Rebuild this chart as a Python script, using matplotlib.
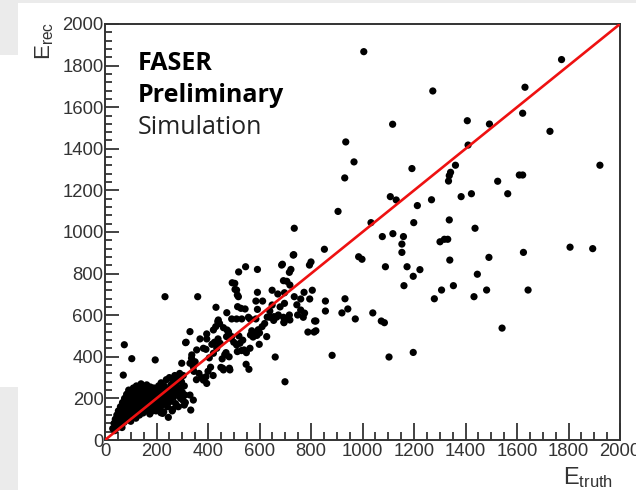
import matplotlib
matplotlib.use("Agg")
import matplotlib.pyplot as plt
from matplotlib.ticker import MultipleLocator
from matplotlib.patches import Rectangle

# ---------------- data (E_truth, E_rec) ----------------
truth_high = [1005, 1773, 1273, 1631, 1622, 1117, 1407, 1493, 1728, 935, 1410, 967, 1922, 1361,
              1192, 1342, 1337, 931, 1334, 1609, 1622, 1525, 1108, 1131, 1423, 1383, 1564, 1213,
              1268, 905, 1033, 1199, 1337, 1437, 1077, 1118, 1159, 1153, 1153, 1301, 1318, 1331,
              852, 1806, 1894, 1625, 985, 998, 1339, 1491, 1089, 1173, 1223, 1197, 1446, 1161,
              1353, 1307, 1482, 1643, 1279, 1433, 856, 932, 856, 920, 943, 972, 1040, 1073, 1085,
              819, 819, 882, 1103, 1197, 1542, 735, 733, 800, 794]
rec_high = [1867, 1829, 1678, 1696, 1571, 1518, 1535, 1519, 1484, 1433, 1418, 1337, 1321, 1321,
            1305, 1287, 1271, 1260, 1245, 1274, 1274, 1244, 1170, 1154, 1184, 1170, 1184, 1127,
            1155, 1099, 1045, 1045, 1058, 1018, 978, 992, 978, 942, 902, 953, 965, 965,
            917, 927, 920, 902, 881, 869, 865, 878, 833, 833, 819, 787, 797, 742,
            742, 721, 721, 721, 679, 689, 668, 679, 620, 611, 630, 582, 611, 572, 564,
            572, 525, 407, 399, 421, 538, 1018, 891, 856, 841]

truth_mid = [689, 592, 722, 716, 693, 706, 718, 592, 649, 671, 697, 773, 805, 735, 760, 795, 586,
             612, 697, 592, 649, 563, 586, 630, 667, 693, 695, 748, 770, 814, 788, 812, 599, 563,
             661, 699, 731, 686, 641, 656, 673, 716, 706, 718, 695, 628, 570, 580, 590, 600, 575,
             595, 565, 610, 620, 640, 655, 680, 745, 760, 775]
rec_mid = [845, 820, 820, 806, 766, 763, 745, 710, 720, 702, 708, 710, 720, 689, 678, 678, 668,
           668, 657, 628, 649, 582, 582, 591, 591, 590, 567, 601, 590, 572, 519, 519, 460, 441,
           399, 280, 889, 841, 590, 593, 601, 601, 585, 577, 564, 497, 525, 510, 503, 515, 495,
           530, 505, 545, 560, 620, 575, 640, 650, 625, 610]

truth_left = [233, 360, 546, 519, 504, 511, 518, 431, 515, 528, 544, 473, 492, 511, 531, 557, 330,
              395, 439, 474, 492, 369, 395, 472, 447, 480, 315, 356, 382, 421, 434, 337, 350, 330,
              343, 298, 548, 457, 483, 559, 494, 505, 514, 440, 421, 430, 445, 460, 438, 479, 489,
              511, 524, 514, 530, 549, 540, 450, 460, 482, 485, 392, 392, 395, 382, 313, 336,
              400, 410, 420, 365, 375, 355, 345, 405, 415, 425, 470, 500, 520, 535, 455, 465]
rec_left = [689, 689, 833, 808, 753, 721, 689, 638, 641, 633, 630, 612, 582, 582, 582, 590, 521,
            510, 486, 529, 497, 486, 486, 497, 465, 516, 470, 433, 441, 417, 441, 409, 376, 369,
            352, 369, 364, 345, 345, 340, 756, 724, 697, 577, 529, 545, 560, 540, 569, 521, 489,
            457, 465, 425, 430, 420, 433, 349, 337, 400, 337, 436, 304, 272, 288, 468, 393,
            330, 350, 310, 320, 300, 290, 330, 395, 460, 470, 420, 470, 500, 480, 390, 410]

truth_low = [75, 104, 195, 71, 311, 330, 343, 333, 263, 217, 246, 291, 302, 308, 224,
             30, 35, 38, 40, 43, 46, 48, 50, 52, 55, 57, 60, 62, 64, 66, 68, 70, 72, 74, 76,
             78, 80, 82, 84, 86, 88, 90, 92, 94, 96, 98, 100, 102, 104, 106, 108, 110, 112, 114,
             116, 118, 120, 122, 124, 126, 128, 130, 132, 134, 136, 138, 140, 142, 144, 146, 148,
             150, 152, 154, 156, 158, 160, 162, 164, 166, 168, 170, 172, 174, 176, 178, 180, 182,
             184, 186, 188, 190, 192, 194, 196, 198, 200, 202, 205, 208, 210, 212, 215, 218, 220,
             222, 225, 228, 230, 232, 235, 238, 240, 243, 246, 248, 250, 253, 256, 258, 261, 264,
             266, 268, 271, 274, 276, 279, 282, 285, 288, 290, 294, 297, 300, 304, 308, 312]
rec_low = [458, 391, 385, 312, 216, 216, 192, 144, 147, 131, 109, 208, 192, 168, 128,
           55, 80, 45, 100, 70, 120, 60, 90, 140, 75, 110, 160, 95, 130, 60, 180, 115, 145, 85, 200,
           130, 165, 100, 220, 150, 185, 120, 240, 170, 135, 205, 90, 155, 230, 185, 120, 250, 200,
           150, 175, 225, 105, 260, 190, 140, 215, 165, 245, 120, 200, 175, 270, 150, 230, 190,
           130, 210, 250, 165, 225, 140, 195, 265, 175, 240, 150, 215, 190, 125, 255, 205, 165,
           235, 140, 215, 185, 250, 160, 225, 195, 140, 240, 175, 210, 260, 150, 225, 190, 275,
           165, 240, 205, 135, 260, 180, 225, 290, 200, 160, 245, 215, 300, 185, 265, 230, 140,
           285, 205, 250, 310, 175, 270, 225, 300, 160, 250, 320, 200, 280, 230, 310, 260, 180]

e_truth = truth_high + truth_mid + truth_left + truth_low
e_rec = rec_high + rec_mid + rec_left + rec_low

diag = [0, 2000]
x_ticks = [0, 200, 400, 600, 800, 1000, 1200, 1400, 1600, 1800, 2000]
y_ticks = [0, 200, 400, 600, 800, 1000, 1200, 1400, 1600, 1800, 2000]

# ---------------- figure ----------------
plt.rcParams['font.family'] = ['Liberation Sans', 'DejaVu Sans']
plt.rcParams['mathtext.fontset'] = 'custom'
plt.rcParams['mathtext.rm'] = 'Liberation Sans'
plt.rcParams['mathtext.it'] = 'Liberation Sans'

fig = plt.figure(figsize=(6.36, 4.90), dpi=100)
fig.patch.set_facecolor('white')

# grey screenshot background pieces
fig.patches.append(Rectangle((0, 1 - 3 / 490), 1, 3 / 490, transform=fig.transFigure,
                             facecolor='#ebebeb', edgecolor='none', zorder=-5))
fig.patches.append(Rectangle((0, 1 - 55 / 490), 18 / 636, 55 / 490, transform=fig.transFigure,
                             facecolor='#ebebeb', edgecolor='none', zorder=-5))
fig.patches.append(Rectangle((0, 0), 18 / 636, 1 - 387 / 490, transform=fig.transFigure,
                             facecolor='#ebebeb', edgecolor='none', zorder=-5))

ax = fig.add_axes([105 / 636, 1 - 440 / 490, 515 / 636, 416 / 490])
ax.set_xlim(0, 2000)
ax.set_ylim(0, 2000)

ax.scatter(e_truth, e_rec, s=27, color='black', edgecolors='none', zorder=3, clip_on=False)
ax.plot(diag, diag, color='#ee1111', lw=1.9, zorder=4, solid_capstyle='butt')

ax.set_xticks(x_ticks)
ax.set_yticks(y_ticks)
ax.xaxis.set_minor_locator(MultipleLocator(50))
ax.yaxis.set_minor_locator(MultipleLocator(40))
ax.tick_params(axis='both', which='both', direction='in', top=False, right=False,
               colors='#222222', labelcolor='#333333', width=1.2)
ax.tick_params(axis='x', which='major', length=12, labelsize=13.3, pad=2)
ax.tick_params(axis='x', which='minor', length=6)
ax.tick_params(axis='y', which='major', length=10, labelsize=13.3, pad=1)
ax.tick_params(axis='y', which='minor', length=5)
for sp in ax.spines.values():
    sp.set_color('#333333')
    sp.set_linewidth(1.4)

# axis titles (ROOT style)
fig.text(588 / 636, 1 - 490 / 490, r'$\mathregular{E_{truth}}$', fontsize=17, color='#333333',
         ha='center', va='bottom')
fig.text(45 / 636, 1 - 22 / 490, r'$\mathregular{E_{rec}}$', fontsize=16, color='#333333',
         ha='center', va='top', rotation=90)

# labels
ax.text(138 / 636, 1 - 70 / 490, 'FASER', transform=fig.transFigure, fontsize=18,
        fontweight='bold', family='Open Sans', color='black', va='baseline')
ax.text(138 / 636, 1 - 102 / 490, 'Preliminary', transform=fig.transFigure, fontsize=18,
        fontweight='bold', family='Open Sans', color='black', va='baseline')
ax.text(138 / 636, 1 - 134 / 490, 'Simulation', transform=fig.transFigure, fontsize=18,
        family='Open Sans', color='#222222', va='baseline')

fig.savefig('out.png', dpi=100)
